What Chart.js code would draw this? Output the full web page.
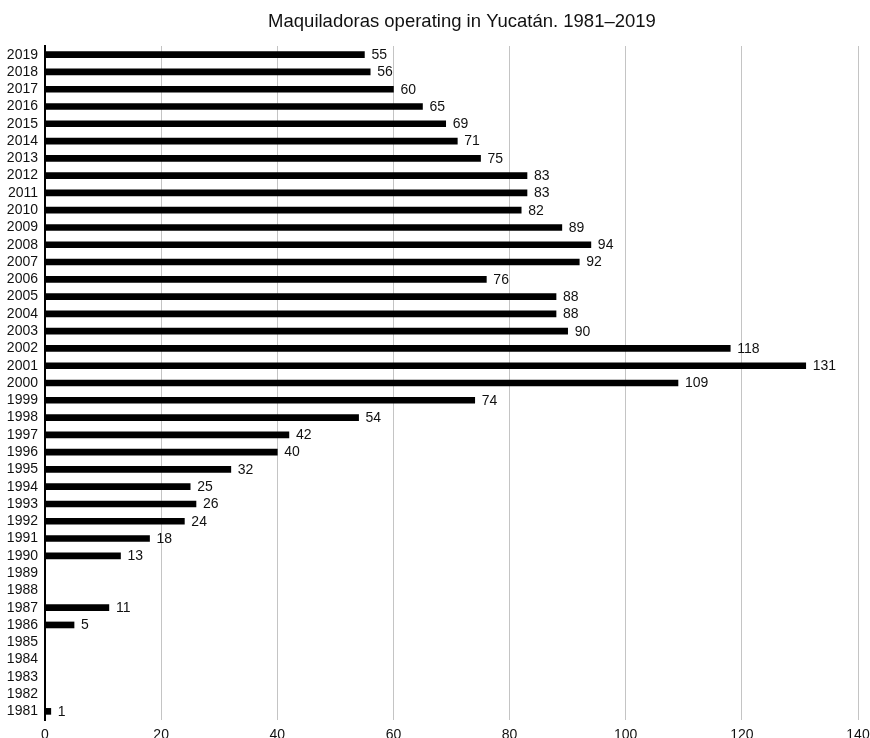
<!DOCTYPE html>
<html>
<head>
<meta charset="utf-8">
<script src="https://cdn.jsdelivr.net/npm/chart.js@4/dist/chart.umd.min.js"></script>
<style>
  html, body { margin: 0; padding: 0; background: #fff; }
  #wrap { width: 870px; height: 738px; overflow: hidden; position: relative; }
  canvas { display: block; }
</style>
</head>
<body>
<div id="wrap"><canvas id="c" width="870" height="760"></canvas></div>
<script>
// Years covered, oldest first
const years = [
  '1981','1982','1983','1984','1985','1986','1987','1988','1989','1990',
  '1991','1992','1993','1994','1995','1996','1997','1998','1999','2000',
  '2001','2002','2003','2004','2005','2006','2007','2008','2009','2010',
  '2011','2012','2013','2014','2015','2016','2017','2018','2019'
];

// Number of maquiladoras operating each year (null = no record)
const plants = [
  1, null, null, null, null, 5, 11, null, null, 13,
  18, 24, 26, 25, 32, 40, 42, 54, 74, 109,
  131, 118, 90, 88, 88, 76, 92, 94, 89, 82,
  83, 83, 75, 71, 69, 65, 60, 56, 55
];

const xTicks = [0, 20, 40, 60, 80, 100, 120, 140];

const titleText = 'Maquiladoras operating in Yucatán. 1981–2019';
const FONT = '"Liberation Sans", Arial, Helvetica, sans-serif';

// Title drawn at a fixed spot above the plot
const titlePlugin = {
  id: 'fixedTitle',
  afterDraw(chart) {
    const ctx = chart.ctx;
    ctx.save();
    ctx.font = '18.5px ' + FONT;
    ctx.fillStyle = '#111';
    ctx.textAlign = 'center';
    ctx.textBaseline = 'alphabetic';
    ctx.fillText(titleText, 462, 27);
    ctx.restore();
  }
};

// Value printed just past the end of each bar
const valueLabels = {
  id: 'valueLabels',
  afterDatasetsDraw(chart) {
    const ctx = chart.ctx;
    const meta = chart.getDatasetMeta(0);
    const data = chart.data.datasets[0].data;
    ctx.save();
    ctx.font = '14px ' + FONT;
    ctx.fillStyle = '#111';
    ctx.textAlign = 'left';
    ctx.textBaseline = 'middle';
    meta.data.forEach((bar, i) => {
      const v = data[i];
      if (v === null || v === undefined) return;
      ctx.fillText(String(v), bar.x + 7, bar.y + 0.5);
    });
    ctx.restore();
  }
};

new Chart(document.getElementById('c'), {
  type: 'bar',
  data: {
    labels: years,
    datasets: [{
      data: plants,
      backgroundColor: '#000',
      borderWidth: 0,
      barThickness: 6
    }]
  },
  options: {
    indexAxis: 'y',
    responsive: false,
    animation: false,
    layout: { padding: { top: 46, right: 12, left: 0, bottom: 0 } },
    plugins: {
      legend: { display: false },
      title: { display: false },
      tooltip: { enabled: false }
    },
    scales: {
      x: {
        min: 0,
        max: 140,
        afterBuildTicks(scale) { scale.ticks = xTicks.map(v => ({ value: v })); },
        afterFit(scale) {
          scale.height = 40;
          scale.paddingLeft = 0;
          scale.paddingRight = 0;
        },
        border: { display: false },
        grid: { color: '#c4c4c4', lineWidth: 1, drawTicks: false },
        ticks: { color: '#111', padding: 7, font: { family: FONT, size: 14 }, maxRotation: 0 }
      },
      y: {
        reverse: true,
        afterFit(scale) {
          scale.width = 45;
          scale.paddingTop = 0;
          scale.paddingBottom = 0;
        },
        border: { display: true, color: '#000', width: 2 },
        grid: { display: false, drawTicks: false },
        ticks: { color: '#111', padding: 7, autoSkip: false, font: { family: FONT, size: 14 } }
      }
    }
  },
  plugins: [titlePlugin, valueLabels]
});
</script>
</body>
</html>
